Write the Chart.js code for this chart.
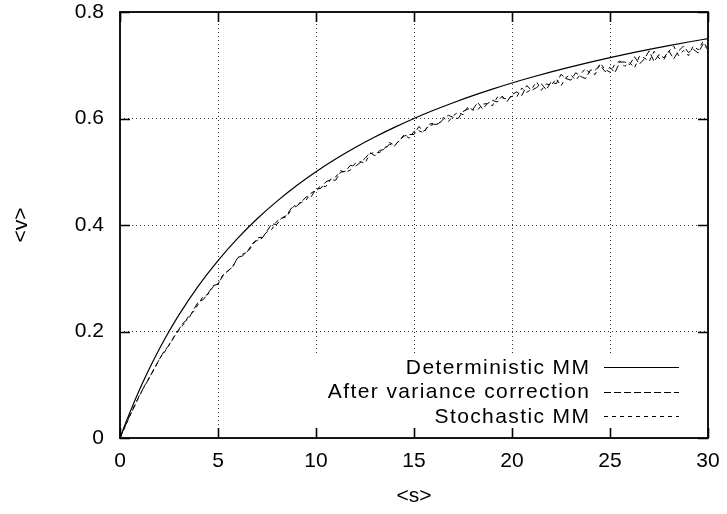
<!DOCTYPE html>
<html><head><meta charset="utf-8">
<script src="https://cdn.jsdelivr.net/npm/chart.js@4/dist/chart.umd.min.js"></script>
<style>html,body{margin:0;padding:0;background:#fff}</style>
</head><body>
<canvas id="c" width="727" height="514"></canvas>
<script>
// ---- data ----
const seriesLabels = ["Deterministic MM", "After variance correction", "Stochastic MM"];
const xTicks = [0, 5, 10, 15, 20, 25, 30];
const yTicks = ["0", "0.2", "0.4", "0.6", "0.8"];

const detS = [0,0.25,0.5,1,1.5,2,2.5,3,4,5,6,7,8,9,10,11,12,13,14,15,16,17,18,19,20,21,22,23,24,25,26,27,28,29,30];
const detV = [0,.0244,.0476,.0909,.1304,.1667,.2,.2308,.2857,.3333,.375,.4118,.4444,.4737,.5,.5238,.5455,.5652,.5833,.6,.6154,.6296,.6429,.6552,.6667,.6774,.6875,.697,.7059,.7143,.7222,.7297,.7368,.7436,.75];

const noisyS = [0,0.25,0.5,0.75,1,1.25,1.5,1.75,2,2.25,2.5,2.75,3,3.25,3.5,3.75,4,4.25,4.5,4.75,5,5.25,5.5,5.75,6,6.25,6.5,6.75,7,7.25,7.5,7.75,8,8.25,8.5,8.75,9,9.25,9.5,9.75,10,10.25,10.5,10.75,11,11.25,11.5,11.75,12,12.25,12.5,12.75,13,13.25,13.5,13.75,14,14.25,14.5,14.75,15,15.25,15.5,15.75,16,16.25,16.5,16.75,17,17.25,17.5,17.75,18,18.25,18.5,18.75,19,19.25,19.5,19.75,20,20.25,20.5,20.75,21,21.25,21.5,21.75,22,22.25,22.5,22.75,23,23.25,23.5,23.75,24,24.25,24.5,24.75,25,25.25,25.5,25.75,26,26.25,26.5,26.75,27,27.25,27.5,27.75,28,28.25,28.5,28.75,29,29.25,29.5,29.75,30];

const varCorrV = [0,.021,.042,.060,.081,.097,.113,.131,.147,.163,
.174,.189,.204,.217,.224,.241,.256,.260,.272,.286,
.289,.305,.314,.321,.339,.342,.350,.365,.371,.375,
.389,.402,.401,.413,.418,.432,.435,.443,.453,.453,
.467,.469,.481,.485,.484,.499,.501,.512,.510,.517,
.525,.536,.530,.540,.542,.552,.548,.559,.567,.570,
.570,.585,.576,.586,.589,.589,.599,.606,.602,.600,
.613,.618,.617,.630,.618,.628,.634,.631,.642,.632,
.645,.650,.643,.662,.653,.658,.665,.654,.669,.665,
.683,.675,.672,.686,.679,.675,.691,.691,.700,.688,
.696,.686,.706,.706,.701,.716,.702,.712,.727,.707,
.720,.714,.727,.712,.727,.736,.724,.730,.723,.740,
.729];

const stochV = [0,.020,.041,.062,.079,.098,.114,.129,.148,.160,
.175,.190,.202,.214,.229,.237,.252,.266,.270,.284,
.289,.306,.313,.322,.338,.345,.349,.361,.376,.377,
.387,.392,.407,.413,.415,.430,.440,.442,.447,.460,
.465,.474,.472,.486,.490,.502,.499,.503,.516,.519,
.516,.534,.536,.536,.544,.555,.550,.558,.570,.563,
.576,.577,.573,.589,.591,.590,.602,.594,.605,.612,
.607,.622,.616,.616,.627,.628,.624,.640,.639,.636,
.642,.641,.657,.649,.655,.669,.653,.665,.662,.675,
.661,.677,.682,.672,.683,.694,.684,.683,.704,.692,
.687,.702,.708,.698,.705,.695,.717,.714,.707,.726,
.713,.711,.726,.736,.718,.728,.718,.736,.729,.745,
.730];

// ---- styling ----
const FONT = "'Liberation Sans', Arial, Helvetica, sans-serif";
const dashes = [[], [7, 3], [4, 4]];

const pts = (xs, ys) => xs.map((x, i) => ({x: x, y: ys[i]}));
const noEdgePadding = s => { s.paddingTop = 0; s.paddingBottom = 0; s.paddingLeft = 0; s.paddingRight = 0; };

const framePlugin = {
  id: 'frame',
  beforeDatasetsDraw(chart) {
    const {ctx, chartArea: a} = chart;
    // key box area hides the grid (gnuplot style)
    ctx.save();
    ctx.fillStyle = '#fff';
    ctx.fillRect(a.left + 180, a.bottom - 85, a.right - a.left - 181, 75);
    ctx.restore();
  },
  afterDraw(chart) {
    const {ctx, chartArea: a, scales} = chart;
    ctx.save();
    ctx.strokeStyle = '#000';
    ctx.lineWidth = 1.6;
    ctx.setLineDash([]);
    const tl = 10;
    ctx.beginPath();
    scales.x.ticks.forEach(t => {
      const px = Math.round(scales.x.getPixelForValue(t.value)) + 0.5;
      ctx.moveTo(px, a.bottom); ctx.lineTo(px, a.bottom - tl);
      ctx.moveTo(px, a.top); ctx.lineTo(px, a.top + tl);
    });
    scales.y.ticks.forEach(t => {
      const py = Math.round(scales.y.getPixelForValue(t.value)) + 0.5;
      ctx.moveTo(a.left, py); ctx.lineTo(a.left + tl, py);
      ctx.moveTo(a.right, py); ctx.lineTo(a.right - tl, py);
    });
    ctx.stroke();
    ctx.lineWidth = 1.8;
    ctx.strokeRect(a.left, a.top, a.right - a.left, a.bottom - a.top);

    // key
    ctx.font = '21px ' + FONT;
    ctx.fillStyle = '#000';
    ctx.textAlign = 'right';
    ctx.textBaseline = 'middle';
    try { ctx.letterSpacing = '1.4px'; } catch (e) {}
    const textRight = a.right - 119;
    const lineX0 = a.right - 104, lineX1 = a.right - 29;
    chart.data.datasets.forEach((ds, i) => {
      const y = a.bottom - 71 + i * 24.5;
      ctx.fillText(ds.label, textRight + 1.4, y + 1);
      ctx.save();
      ctx.lineWidth = 1;
      ctx.setLineDash(ds.borderDash || []);
      ctx.beginPath();
      ctx.moveTo(lineX0, Math.round(y) + 0.5);
      ctx.lineTo(lineX1, Math.round(y) + 0.5);
      ctx.stroke();
      ctx.restore();
    });
    ctx.restore();
  }
};

new Chart(document.getElementById('c').getContext('2d'), {
  type: 'line',
  data: {
    datasets: [
      {label: seriesLabels[0], data: pts(detS, detV), borderColor: '#000', borderWidth: 1.2,
       borderDash: dashes[0], pointRadius: 0, cubicInterpolationMode: 'monotone', fill: false},
      {label: seriesLabels[1], data: pts(noisyS, varCorrV), borderColor: '#000', borderWidth: 1,
       borderDash: dashes[1], pointRadius: 0, tension: 0, fill: false},
      {label: seriesLabels[2], data: pts(noisyS, stochV), borderColor: '#000', borderWidth: 1,
       borderDash: dashes[2], pointRadius: 0, tension: 0, fill: false}
    ]
  },
  options: {
    responsive: false,
    animation: false,
    events: [],
    layout: {autoPadding: false, padding: {top: 12, right: 19, left: 9, bottom: 0}},
    plugins: {legend: {display: false}, tooltip: {enabled: false}},
    scales: {
      x: {
        type: 'linear', min: 0, max: 30,
        afterBuildTicks: s => { s.ticks = xTicks.map(v => ({value: v})); },
        ticks: {color: '#000', font: {family: FONT, size: 21}, padding: 11, maxRotation: 0,
                callback: v => String(v)},
        grid: {color: '#333', lineWidth: 1, drawTicks: false},
        border: {display: false, dash: [1, 3]},
        title: {display: true, text: '<s>', color: '#000', font: {family: FONT, size: 21},
                padding: {top: 0, bottom: 5}},
        afterFit: s => { s.height = 76; noEdgePadding(s); }
      },
      y: {
        type: 'linear', min: 0, max: 0.8,
        afterBuildTicks: s => { s.ticks = yTicks.map(v => ({value: parseFloat(v)})); },
        ticks: {color: '#000', font: {family: FONT, size: 21}, padding: 16,
                callback: (v, i) => yTicks[i]},
        grid: {color: '#333', lineWidth: 1, drawTicks: false},
        border: {display: false, dash: [1, 3]},
        title: {display: true, text: '<v>', color: '#000', font: {family: FONT, size: 21},
                padding: {top: 0, bottom: 0}},
        afterFit: s => { s.width = 111; noEdgePadding(s); }
      }
    }
  },
  plugins: [framePlugin]
});
</script>
</body></html>
